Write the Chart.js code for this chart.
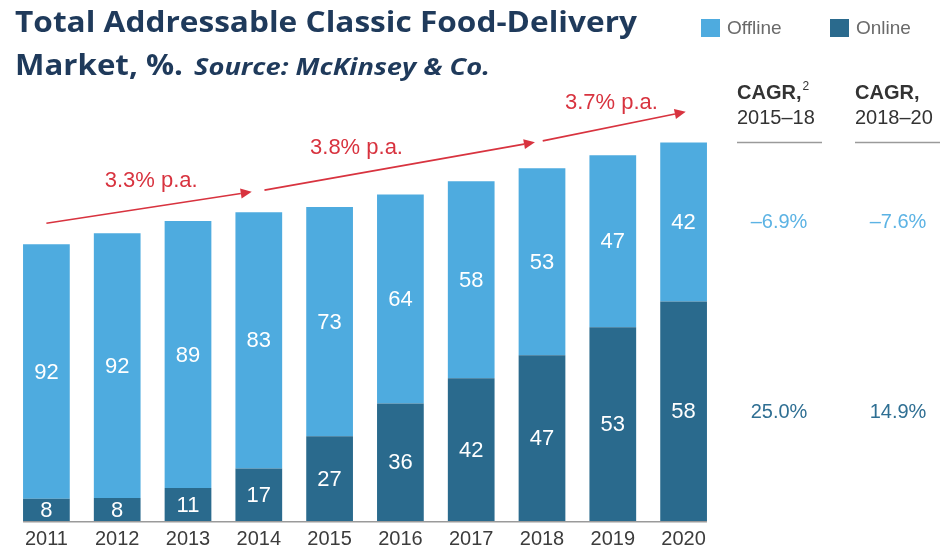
<!DOCTYPE html>
<html>
<head>
<meta charset="utf-8">
<title>Total Addressable Classic Food-Delivery Market</title>
<script src="https://cdn.jsdelivr.net/npm/chart.js@4/dist/chart.umd.min.js"></script>
<style>
  html, body { margin: 0; padding: 0; background: #fff; }
  #wrap { width: 942px; height: 551px; }
</style>
</head>
<body>
<div id="wrap"><canvas id="chart" width="942" height="551"></canvas></div>
<script>
// market size index (2011 = 100)
const years = ['2011', '2012', '2013', '2014', '2015', '2016', '2017', '2018', '2019', '2020'];
const marketIndex = [100, 104, 108.4, 111.6, 113.5, 118, 122.8, 127.5, 132.2, 136.8];
const offlinePct = [92, 92, 89, 83, 73, 64, 58, 53, 47, 42];
const onlinePct = [8, 8, 11, 17, 27, 36, 42, 47, 53, 58];

// growth arrows: [fromIndex, fromValue, toIndex, toValue], label at [index, value]
const growthLabels = ['3.3% p.a.', '3.8% p.a.', '3.7% p.a.'];
const growthArrows = [
    [0, 107.6, 2.9, 119.0],
    [3.08, 119.6, 6.9, 136.9],
    [7.01, 137.4, 9.03, 147.9],
];
const growthLabelPos = [[1.48, 122.9], [4.38, 134.8], [7.98, 151.1]];

const cagrHeaders = [['CAGR,', '2', '2015\u201318'], ['CAGR,', '', '2018\u201320']];
const cagrOffline = ['\u20136.9%', '\u20137.6%'];
const cagrOnline = ['25.0%', '14.9%'];

const OFFLINE = '#4eabdf';
const ONLINE = '#2a6a8d';
const RED = '#d8333f';
const SANS = '"Liberation Sans", Arial, Helvetica, sans-serif';

const onlineVals = marketIndex.map((t, i) => t * onlinePct[i] / 100);
const offlineVals = marketIndex.map((t, i) => t * offlinePct[i] / 100);

// draw text stretched horizontally to a given width (title font is wider than Open Sans)
function fillStretched(ctx, text, x, y, width) {
    const sx = width / ctx.measureText(text).width;
    ctx.save();
    ctx.translate(x, y);
    ctx.scale(sx, 1);
    ctx.fillText(text, 0, 0);
    ctx.restore();
}

const decorations = {
    id: 'decorations',
    afterDatasetsDraw(chart) {
        const ctx = chart.ctx;
        const x = chart.scales.x, y = chart.scales.y;
        ctx.save();

        // percentage labels in the middle of each segment
        ctx.fillStyle = '#ffffff';
        ctx.font = `22px ${SANS}`;
        ctx.textAlign = 'center';
        ctx.textBaseline = 'middle';
        const pcts = [onlinePct, offlinePct];
        chart.data.datasets.forEach((ds, di) => {
            chart.getDatasetMeta(di).data.forEach((bar, i) => {
                ctx.fillText(String(pcts[di][i]), bar.x, (bar.y + bar.base) / 2 + 1);
            });
        });

        // baseline under the bars
        const bars = chart.getDatasetMeta(0).data;
        const first = bars[0], last = bars[bars.length - 1];
        ctx.strokeStyle = '#9a9a9a';
        ctx.lineWidth = 1.5;
        ctx.beginPath();
        ctx.moveTo(first.x - first.width / 2, y.getPixelForValue(0) + 0.75);
        ctx.lineTo(last.x + last.width / 2, y.getPixelForValue(0) + 0.75);
        ctx.stroke();

        // red growth arrows
        ctx.strokeStyle = RED;
        ctx.fillStyle = RED;
        ctx.lineWidth = 1.6;
        growthArrows.forEach(a => {
            const x0 = x.getPixelForValue(a[0]), y0 = y.getPixelForValue(a[1]);
            const x1 = x.getPixelForValue(a[2]), y1 = y.getPixelForValue(a[3]);
            const ang = Math.atan2(y1 - y0, x1 - x0);
            const len = 11, hw = 5;
            const bx = x1 - len * Math.cos(ang), by = y1 - len * Math.sin(ang);
            ctx.beginPath();
            ctx.moveTo(x0, y0);
            ctx.lineTo(bx, by);
            ctx.stroke();
            ctx.beginPath();
            ctx.moveTo(x1, y1);
            ctx.lineTo(bx + hw * Math.sin(ang), by - hw * Math.cos(ang));
            ctx.lineTo(bx - hw * Math.sin(ang), by + hw * Math.cos(ang));
            ctx.closePath();
            ctx.fill();
        });
        ctx.font = `22px ${SANS}`;
        growthLabels.forEach((t, i) => {
            const p = growthLabelPos[i];
            ctx.fillText(t, x.getPixelForValue(p[0]), y.getPixelForValue(p[1]));
        });
        ctx.restore();
    },
    afterDraw(chart) {
        const ctx = chart.ctx;
        ctx.save();

        // title
        const TFONT = '"Open Sans", Lato, sans-serif';
        ctx.fillStyle = '#1f3a5b';
        ctx.textAlign = 'left';
        ctx.textBaseline = 'alphabetic';
        ctx.font = `bold 29px ${TFONT}`;
        fillStretched(ctx, 'Total Addressable Classic Food-Delivery', 15, 32, 622);
        fillStretched(ctx, 'Market, %.', 15, 75, 168);
        ctx.font = `italic bold 24px ${TFONT}`;
        fillStretched(ctx, 'Source: McKinsey & Co.', 194, 75, 296);

        // legend
        ctx.font = `19px ${SANS}`;
        ctx.textBaseline = 'middle';
        const legend = [['Offline', OFFLINE, 701], ['Online', ONLINE, 830]];
        legend.forEach(([label, color, lx]) => {
            ctx.fillStyle = color;
            ctx.fillRect(lx, 19, 19, 18);
            ctx.fillStyle = '#6a6a6a';
            ctx.fillText(label, lx + 26, 29);
        });

        // CAGR table
        const cols = [779, 898];
        cagrHeaders.forEach((h, i) => {
            const cx = cols[i];
            ctx.fillStyle = '#333333';
            ctx.font = `bold 20px ${SANS}`;
            ctx.textBaseline = 'alphabetic';
            const w = ctx.measureText(h[0]).width;
            const leftX = i === 0 ? 737 : 855;
            ctx.textAlign = 'left';
            ctx.fillText(h[0], leftX, 99);
            if (h[1]) {
                ctx.font = `12px ${SANS}`;
                ctx.fillText(h[1], leftX + w + 1, 90);
            }
            ctx.font = `20px ${SANS}`;
            ctx.fillText(h[2], leftX, 124);
            ctx.strokeStyle = '#9a9a9a';
            ctx.lineWidth = 1.5;
            ctx.beginPath();
            ctx.moveTo(leftX, 142.5);
            ctx.lineTo(leftX + 85, 142.5);
            ctx.stroke();
            ctx.textAlign = 'center';
            ctx.textBaseline = 'middle';
            ctx.font = `20px ${SANS}`;
            ctx.fillStyle = '#5cb3e4';
            ctx.fillText(cagrOffline[i], cx, 222);
            ctx.fillStyle = '#2f6f93';
            ctx.fillText(cagrOnline[i], cx, 412);
        });
        ctx.restore();
    }
};

new Chart(document.getElementById('chart'), {
    type: 'bar',
    data: {
        labels: years,
        datasets: [
            { label: 'Online', data: onlineVals, backgroundColor: ONLINE },
            { label: 'Offline', data: offlineVals, backgroundColor: OFFLINE },
        ]
    },
    options: {
        responsive: false,
        animation: false,
        layout: { padding: { left: 11, right: 223, top: 23, bottom: 0 } },
        datasets: { bar: { categoryPercentage: 1, barPercentage: 0.66, borderWidth: 0 } },
        plugins: { legend: { display: false }, tooltip: { enabled: false } },
        scales: {
            x: {
                stacked: true,
                grid: { display: true, drawOnChartArea: false, drawTicks: true, tickLength: 6, color: 'rgba(0,0,0,0)' },
                border: { display: false },
                ticks: { padding: 0, color: '#3c3c3c', font: { family: SANS, size: 20 } }
            },
            y: { stacked: true, display: false, min: 0, max: 180 }
        }
    },
    plugins: [decorations]
});
</script>
</body>
</html>
